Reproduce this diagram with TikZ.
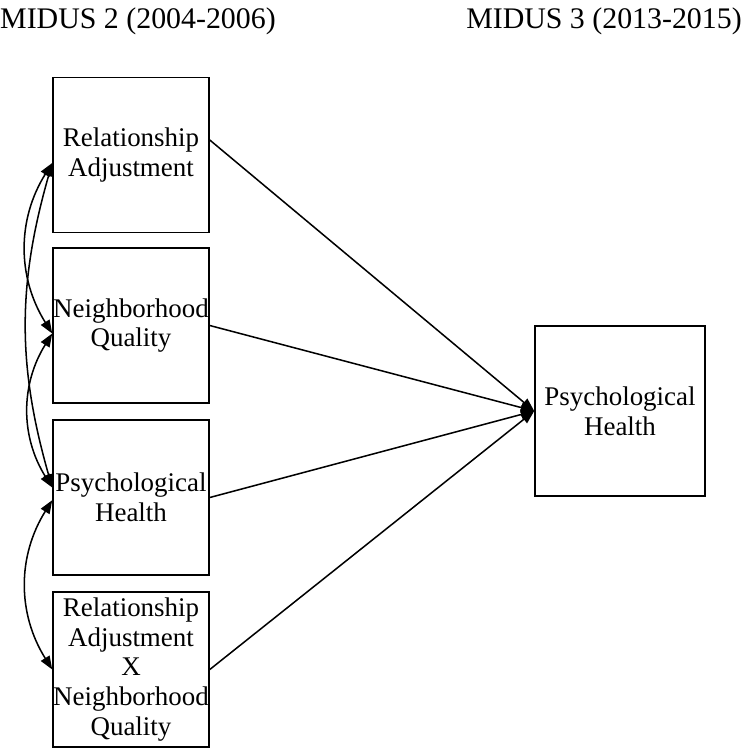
\documentclass[tikz,border=0pt]{standalone}
\usepackage{fontspec}
\setmainfont{Liberation Serif}
\usetikzlibrary{arrows.meta, positioning}

\begin{document}
\begin{tikzpicture}[x=0.03cm, y=-0.03cm,
  box/.style={draw, line width=1.3pt, minimum width=4.68cm, minimum height=4.65cm,
    align=center, inner sep=0pt, font=\fontsize{23}{25.5}\selectfont},
  hdr/.style={inner sep=0pt, font=\fontsize{25.5}{30}\selectfont},
  arr/.style={-{Triangle[length=4mm, width=3mm]}, line width=1.3pt},
  cov/.style={{Triangle[length=4mm, width=3mm]}-{Triangle[length=4mm, width=3mm]}, line width=1.3pt}
]
  \useasboundingbox (0,0) rectangle (744,751);
  \node[hdr, anchor=base west] (m2) at (0,28) {MIDUS 2 (2004-2006)};
  \node[hdr, anchor=base east] (m3) at (742,28) {MIDUS 3 (2013-2015)};

  \node[box] (ra) at (131,155) {Relationship\\Adjustment};
  \node[box] (nq) at (131,325.5) {Neighborhood\\Quality};
  \node[box] (ph) at (131,497.5) {Psychological\\Health};
  \node[box] (rxn) at (131,669.5) {Relationship\\Adjustment\\X\\Neighborhood\\Quality};
  \node[box, minimum width=5.1cm, minimum height=5.1cm] (ph3) at (620,411) {Psychological\\Health};

  \draw[arr] ([yshift=0.45cm]ra.east) -- (ph3.west);
  \draw[arr] (nq.east) -- (ph3.west);
  \draw[arr] (ph.east) -- (ph3.west);
  \draw[arr] (rxn.east) -- (ph3.west);

  % correlations among the predictors
  \draw[cov] ([yshift=-0.24cm]ra.west) to[bend right=32] ([yshift=-0.24cm]nq.west);
  \draw[cov] ([yshift=-0.24cm]ra.west) to[bend right=16] ([yshift=0.3cm]ph.west);
  \draw[cov] ([yshift=-0.24cm]nq.west) to[bend right=32] ([yshift=0.3cm]ph.west);
  \draw[cov] ([yshift=-0.08cm]ph.west) to[bend right=32] (rxn.west);
\end{tikzpicture}
\end{document}
